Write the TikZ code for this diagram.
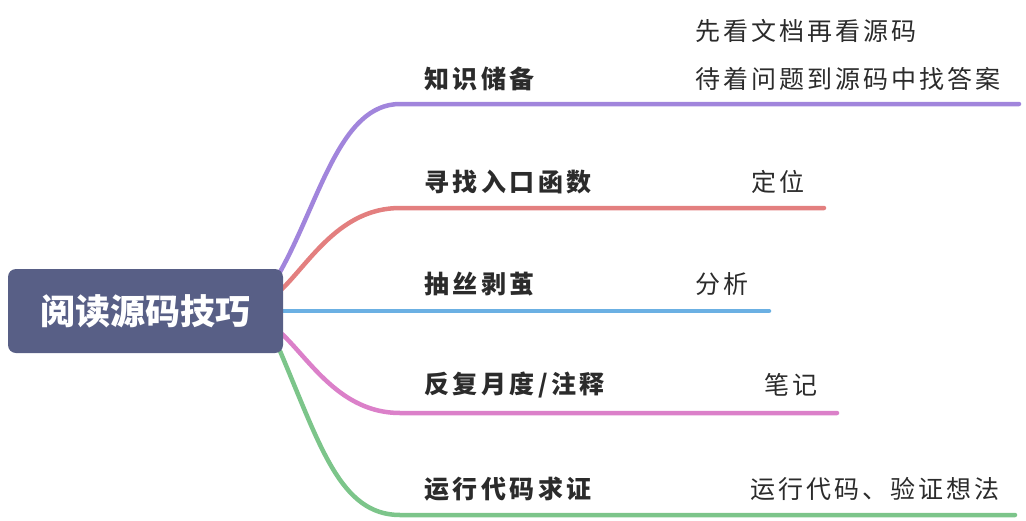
\documentclass[tikz,border=0pt]{standalone}
\usepackage{fontspec}
\setmainfont{Noto Sans CJK SC}
\newfontfamily\cjk[LetterSpace=12]{Noto Sans CJK SC}
\newfontfamily\cjkb[LetterSpace=14]{Noto Sans CJK SC}
\definecolor{rootfill}{HTML}{585F86}
\definecolor{cpurple}{HTML}{A185DC}
\definecolor{cred}{HTML}{E37F7F}
\definecolor{cblue}{HTML}{6BB0E3}
\definecolor{cpink}{HTML}{DB80C9}
\definecolor{cgreen}{HTML}{7CC58A}
\definecolor{txt}{HTML}{2B2B2B}
\begin{document}
\begin{tikzpicture}[x=1pt,y=-1pt,
  branch/.style={line width=4.5pt,line cap=round},
  rootbox/.style={fill=rootfill,rounded corners=8pt,minimum width=275pt,minimum height=84pt,inner sep=0pt,text=white,font=\fontsize{35}{40}\selectfont\bfseries},
  topic/.style={anchor=west,inner sep=0pt,text=txt,font=\cjkb\fontsize{25}{28}\selectfont\bfseries},
  sub/.style={anchor=west,inner sep=0pt,text=txt,font=\cjk\fontsize{25}{28}\selectfont}]
\useasboundingbox (0,0) rectangle (1026,520);
% junctions and ends
\coordinate (s1) at (280,272); \coordinate (j1) at (400,104); \coordinate (e1) at (1019,104);
\coordinate (s2) at (281,290); \coordinate (j2) at (400,208); \coordinate (e2) at (824,208);
\coordinate (s3) at (281,311); \coordinate (e3) at (769,311);
\coordinate (s4) at (281,333); \coordinate (j4) at (400,413); \coordinate (e4) at (837,413);
\coordinate (s5) at (280,351); \coordinate (j5) at (400,515); \coordinate (e5) at (1015,515);
\draw[branch,cpurple] (s1) .. controls (320,200) and (340,104) .. (j1) -- (e1);
\draw[branch,cred] (s2) .. controls (310,262) and (340,208) .. (j2) -- (e2);
\draw[branch,cblue] (s3) -- (e3);
\draw[branch,cpink] (s4) .. controls (310,360) and (340,413) .. (j4) -- (e4);
\draw[branch,cgreen] (s5) .. controls (320,445) and (340,515) .. (j5) -- (e5);
\node[rootbox] (root) at (145.5,311) {阅读源码技巧};
\node[topic] (t1) at (424,79) {知识储备};
\node[topic] (t2) at (424,182) {寻找入口函数};
\node[topic] (t3) at (424,284) {抽丝剥茧};
\node[topic] (t4) at (424,385) {反复月度/注释};
\node[topic] (t5) at (424,489) {运行代码求证};
\node[sub] (u1a) at (695,31) {先看文档再看源码};
\node[sub] (u1b) at (695,79) {待着问题到源码中找答案};
\node[sub] (u2) at (751,182) {定位};
\node[sub] (u3) at (695,284) {分析};
\node[sub] (u4) at (764,385) {笔记};
\node[sub] (u5) at (750,489) {运行代码、验证想法};
\end{tikzpicture}
\end{document}
